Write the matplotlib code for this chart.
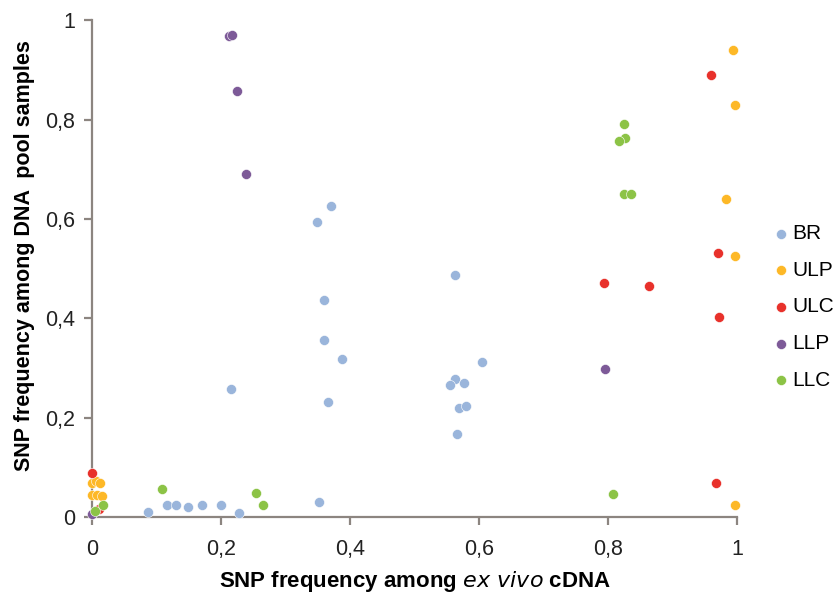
import matplotlib
matplotlib.use("Agg")
import matplotlib.pyplot as plt
from matplotlib.ticker import FuncFormatter

plt.rcParams['font.family'] = ['Liberation Sans', 'DejaVu Sans']

# values (x = ex vivo cDNA, y = DNA pool)
br_x = [0.087, 0.117, 0.131, 0.149, 0.170, 0.200, 0.228, 0.216, 0.349, 0.371, 0.360, 0.360,
        0.387, 0.366, 0.352, 0.563, 0.604, 0.563, 0.555, 0.577, 0.569, 0.580, 0.566]
br_y = [0.010, 0.024, 0.024, 0.020, 0.024, 0.024, 0.008, 0.258, 0.594, 0.626, 0.437, 0.356,
        0.318, 0.231, 0.030, 0.487, 0.312, 0.277, 0.266, 0.269, 0.219, 0.223, 0.167]

ulp_x = [0.0, 0.007, 0.013, 0.0, 0.008, 0.015, 0.993, 0.996, 0.983, 0.997, 0.997]
ulp_y = [0.068, 0.072, 0.068, 0.045, 0.045, 0.042, 0.940, 0.829, 0.640, 0.525, 0.024]

ulc_x = [0.0, 0.011, 0.959, 0.794, 0.864, 0.970, 0.972, 0.967]
ulc_y = [0.088, 0.016, 0.889, 0.472, 0.465, 0.531, 0.402, 0.069]

llp_x = [0.0, 0.212, 0.217, 0.225, 0.239, 0.796]
llp_y = [0.006, 0.968, 0.970, 0.857, 0.690, 0.297]

llc_x = [0.005, 0.017, 0.109, 0.254, 0.265, 0.824, 0.827, 0.817, 0.824, 0.835, 0.807]
llc_y = [0.012, 0.025, 0.056, 0.048, 0.024, 0.791, 0.763, 0.756, 0.650, 0.650, 0.046]

series = [("BR", br_x, br_y, "#9ab5db"),
          ("ULP", ulp_x, ulp_y, "#fdb827"),
          ("ULC", ulc_x, ulc_y, "#e8312b"),
          ("LLP", llp_x, llp_y, "#7d5a98"),
          ("LLC", llc_x, llc_y, "#8cc346")]

fig = plt.figure(figsize=(8.4, 5.95), dpi=100)
ax = fig.add_axes([0.1095, 0.131, 0.768, 0.835])

for name, xs, ys, col in series:
    ax.scatter(xs, ys, s=52, color=col, edgecolors="white", linewidths=0.4,
               label=name, clip_on=False, zorder=3)

ax.set_xlim(0, 1)
ax.set_ylim(0, 1)
ticks = [0, 0.2, 0.4, 0.6, 0.8, 1]
ax.set_xticks(ticks)
ax.set_yticks(ticks)
fmt = FuncFormatter(lambda v, p: ("%g" % v).replace(".", ","))
ax.xaxis.set_major_formatter(fmt)
ax.yaxis.set_major_formatter(fmt)

for side in ["top", "right"]:
    ax.spines[side].set_visible(False)
for side in ["left", "bottom"]:
    ax.spines[side].set_color("#8c8580")
    ax.spines[side].set_linewidth(1.6)
ax.tick_params(direction="out", length=6, width=1.6, color="#8c8580",
               labelsize=15.5, labelcolor="#222222")
ax.tick_params(axis="x", pad=10)
ax.tick_params(axis="y", pad=6)

ax.set_xlabel("SNP frequency among $\\it{ex\\ vivo}$ cDNA", fontsize=16,
              fontweight="bold", labelpad=6)
ax.set_ylabel("SNP frequency among DNA  pool samples", fontsize=15.5,
              fontweight="bold")
ax.yaxis.set_label_coords(-0.088, 0.527)

leg = ax.legend(loc="center left", bbox_to_anchor=(1.056, 0.423), frameon=False,
                fontsize=15, handlelength=0.7, handletextpad=0.2, labelspacing=0.85,
                markerscale=1.0, borderaxespad=0, borderpad=0)

fig.savefig("out.png", dpi=100)
